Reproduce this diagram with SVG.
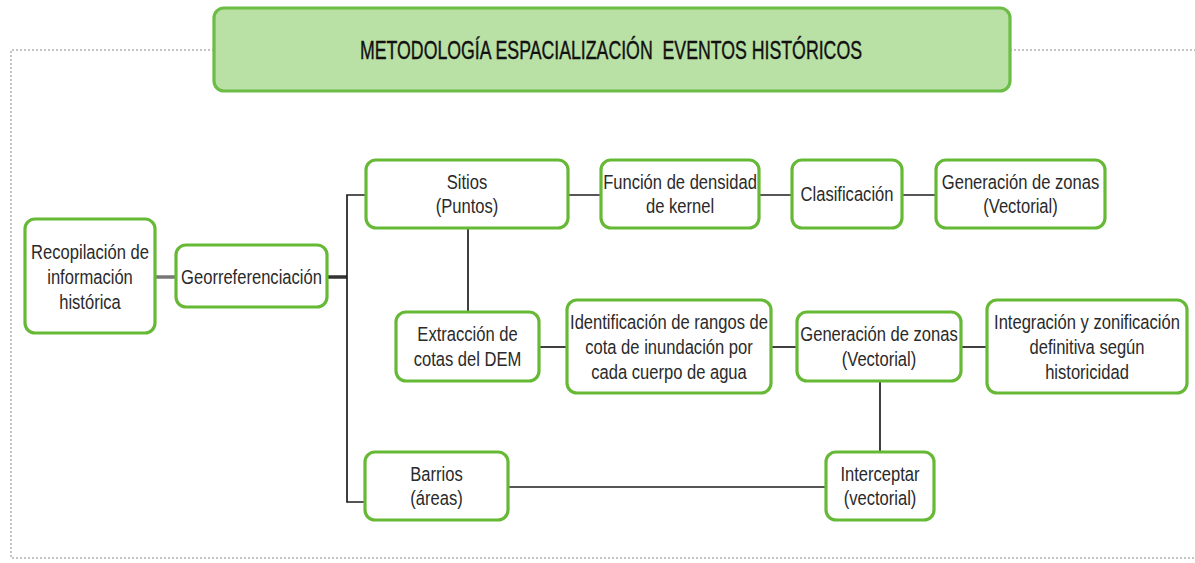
<svg xmlns="http://www.w3.org/2000/svg" width="1195" height="563" viewBox="0 0 1195 563">
<style>
.node{fill:#ffffff;stroke:#66b935;stroke-width:3.2}
.title{fill:#b9e0a5;stroke:#6cbd45;stroke-width:3.2}
.t{font-family:"Liberation Sans",Arial,sans-serif;font-size:19.5px;fill:#2a2a2a;text-anchor:middle}
.tt{font-family:"Liberation Sans",Arial,sans-serif;font-size:25px;fill:#111;text-anchor:start;white-space:pre}
.c{stroke:#1e1e1e;stroke-width:1.7;fill:none}
.border{stroke:#c4c4c4;stroke-width:2;stroke-dasharray:2 2;fill:none}
</style>
<rect width="1195" height="563" fill="#ffffff"/>
<g id="border">
<path class="border" d="M214 50 H11 V558 H1195"/>
<path class="border" d="M1010 50 H1195"/>
</g>
<g id="connectors">
<line x1="155" y1="277" x2="176" y2="277" stroke="#777" stroke-width="3.5"/>
<line x1="327" y1="277" x2="347" y2="277" stroke="#333" stroke-width="3.5"/>
<path class="c" d="M366 195 H347 V502 H365"/>
<line class="c" x1="468" y1="228" x2="468" y2="312"/>
<line class="c" x1="568" y1="195" x2="601" y2="195"/>
<line class="c" x1="759" y1="195" x2="792" y2="195"/>
<line class="c" x1="902" y1="195" x2="936" y2="195"/>
<line class="c" x1="539" y1="347" x2="567" y2="347"/>
<line class="c" x1="771" y1="347" x2="797" y2="347"/>
<line class="c" x1="961" y1="347" x2="987" y2="347"/>
<line class="c" x1="880" y1="381" x2="880" y2="452"/>
<line class="c" x1="508" y1="487" x2="826" y2="487"/>
</g>
<g id="title">
<rect class="title" x="214" y="8" width="796" height="83" rx="10"/>
<text class="tt" x="360" y="59" xml:space="preserve" textLength="502" lengthAdjust="spacingAndGlyphs" stroke="#111" stroke-width="0.4">METODOLOGÍA ESPACIALIZACIÓN  EVENTOS HISTÓRICOS</text>
</g>
<g id="recopilacion">
<rect class="node" x="25" y="219" width="130" height="114" rx="10"/>
<g transform="translate(90 0) scale(0.85 1)"><text class="t"><tspan x="0" y="259">Recopilación de</tspan><tspan x="0" y="284">información</tspan><tspan x="0" y="309">histórica</tspan></text></g>
</g>
<g id="georreferenciacion">
<rect class="node" x="176" y="245" width="151" height="62" rx="10"/>
<g transform="translate(251.5 0) scale(0.85 1)"><text class="t"><tspan x="0" y="284">Georreferenciación</tspan></text></g>
</g>
<g id="sitios">
<rect class="node" x="366" y="160" width="202" height="68" rx="10"/>
<g transform="translate(467 0) scale(0.85 1)"><text class="t"><tspan x="0" y="189">Sitios</tspan><tspan x="0" y="213">(Puntos)</tspan></text></g>
</g>
<g id="kernel">
<rect class="node" x="601" y="160" width="158" height="68" rx="10"/>
<g transform="translate(680 0) scale(0.85 1)"><text class="t"><tspan x="0" y="189">Función de densidad</tspan><tspan x="0" y="213">de kernel</tspan></text></g>
</g>
<g id="clasificacion">
<rect class="node" x="792" y="160" width="110" height="68" rx="10"/>
<g transform="translate(847 0) scale(0.85 1)"><text class="t"><tspan x="0" y="201">Clasificación</tspan></text></g>
</g>
<g id="generacion1">
<rect class="node" x="936" y="160" width="169" height="68" rx="10"/>
<g transform="translate(1020.5 0) scale(0.85 1)"><text class="t"><tspan x="0" y="189">Generación de zonas</tspan><tspan x="0" y="213">(Vectorial)</tspan></text></g>
</g>
<g id="extraccion">
<rect class="node" x="396" y="312" width="143" height="69" rx="10"/>
<g transform="translate(467.5 0) scale(0.85 1)"><text class="t"><tspan x="0" y="341">Extracción de</tspan><tspan x="0" y="366">cotas del DEM</tspan></text></g>
</g>
<g id="identificacion">
<rect class="node" x="567" y="300" width="204" height="93" rx="10"/>
<g transform="translate(669 0) scale(0.85 1)"><text class="t"><tspan x="0" y="329">Identificación de rangos de</tspan><tspan x="0" y="354">cota de inundación por</tspan><tspan x="0" y="379">cada cuerpo de agua</tspan></text></g>
</g>
<g id="generacion2">
<rect class="node" x="797" y="312" width="164" height="69" rx="10"/>
<g transform="translate(879 0) scale(0.85 1)"><text class="t"><tspan x="0" y="341">Generación de zonas</tspan><tspan x="0" y="366">(Vectorial)</tspan></text></g>
</g>
<g id="integracion">
<rect class="node" x="987" y="300" width="200" height="93" rx="10"/>
<g transform="translate(1087 0) scale(0.85 1)"><text class="t"><tspan x="0" y="329">Integración y zonificación</tspan><tspan x="0" y="354">definitiva según</tspan><tspan x="0" y="379">historicidad</tspan></text></g>
</g>
<g id="barrios">
<rect class="node" x="365" y="452" width="143" height="68" rx="10"/>
<g transform="translate(436.5 0) scale(0.85 1)"><text class="t"><tspan x="0" y="481">Barrios</tspan><tspan x="0" y="505">(áreas)</tspan></text></g>
</g>
<g id="interceptar">
<rect class="node" x="826" y="452" width="108" height="68" rx="10"/>
<g transform="translate(880 0) scale(0.85 1)"><text class="t"><tspan x="0" y="481">Interceptar</tspan><tspan x="0" y="505">(vectorial)</tspan></text></g>
</g>
</svg>
